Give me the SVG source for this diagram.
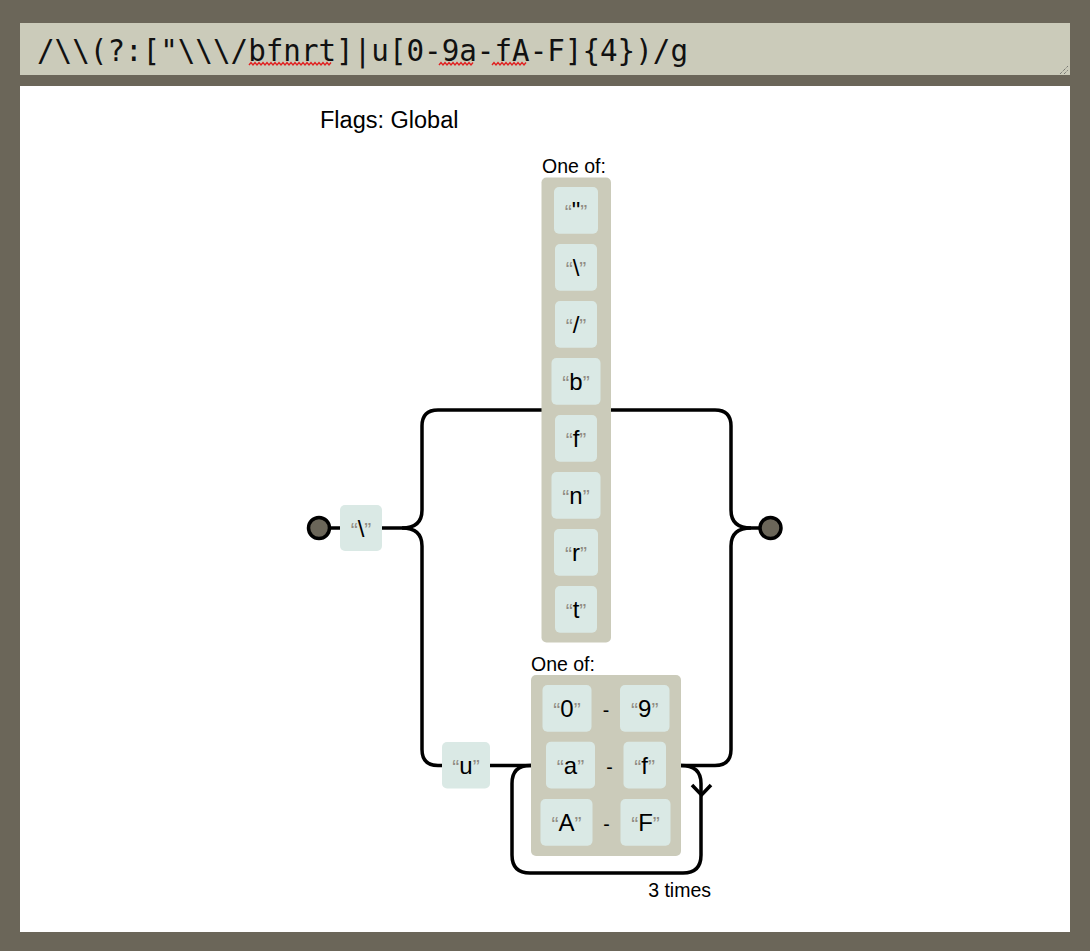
<svg xmlns="http://www.w3.org/2000/svg" width="1090" height="951" viewBox="0 0 1090 951">
<style>
.lit rect{fill:#dae9e5}
.lit text{font-family:"Liberation Sans",Arial,sans-serif;font-size:24px;fill:#000;text-anchor:middle}
.q{fill:#908c83;font-size:21px}
.alt{fill:#cbcbba}
.lbl{font-family:"Liberation Sans",Arial,sans-serif;font-size:19.5px;fill:#000}
.conn path,.conn polyline{fill:none;stroke:#000;stroke-width:3.5}
.anchor{fill:#6b6659;stroke:#000;stroke-width:3.5}
.squig{fill:none;stroke:#e02020;stroke-width:1.4}
</style>
<rect x="0" y="0" width="1090" height="951" fill="#6b6659"/>
<g id="input">
<rect x="20" y="23" width="1050" height="52" fill="#cbcbba"/>
<text x="37" y="61" font-family="'DejaVu Sans Mono','Liberation Mono',monospace" font-size="29.3" textLength="651" lengthAdjust="spacingAndGlyphs" fill="#111">/\\(?:["\\\/bfnrt]|u[0-9a-fA-F]{4})/g</text>
<path class="squig" d="M249,65 l2,-2.5 l2,2.5 l2,-2.5 l2,2.5 l2,-2.5 l2,2.5 l2,-2.5 l2,2.5 l2,-2.5 l2,2.5 l2,-2.5 l2,2.5 l2,-2.5 l2,2.5 l2,-2.5 l2,2.5 l2,-2.5 l2,2.5 l2,-2.5 l2,2.5 l2,-2.5 l2,2.5 l2,-2.5 l2,2.5 l2,-2.5 l2,2.5 l2,-2.5 l2,2.5 l2,-2.5 l2,2.5 l2,-2.5 l2,2.5 l2,-2.5 l2,2.5 l2,-2.5 l2,2.5 l2,-2.5 l2,2.5 l2,-2.5 l2,2.5 l2,-2.5"/>
<path class="squig" d="M439,65 l2,-2.5 l2,2.5 l2,-2.5 l2,2.5 l2,-2.5 l2,2.5 l2,-2.5 l2,2.5 l2,-2.5 l2,2.5 l2,-2.5 l2,2.5 l2,-2.5 l2,2.5 l2,-2.5 l2,2.5 l2,-2.5"/>
<path class="squig" d="M492,65 l2,-2.5 l2,2.5 l2,-2.5 l2,2.5 l2,-2.5 l2,2.5 l2,-2.5 l2,2.5 l2,-2.5 l2,2.5 l2,-2.5 l2,2.5 l2,-2.5 l2,2.5 l2,-2.5 l2,2.5 l2,-2.5"/>
<path d="M1060,74 L1068,66 M1064,74 L1068,70" stroke="#555" stroke-width="1" stroke-dasharray="1,1" fill="none"/>
</g>
<rect x="20" y="86" width="1050" height="846" fill="#fff"/>
<text x="320" y="128" font-family="'Liberation Sans',Arial,sans-serif" font-size="23.5" fill="#000">Flags: Global</text>
<g class="conn" id="connectors">
<path d="M319,528 H340"/>
<path d="M382,528 H402"/>
<path d="M402,528 q20,0 20,-18 V426 q0,-16 16,-16 H542"/>
<path d="M402,528 q20,0 20,18 V749.5 q0,16 16,16 H442"/>
<path d="M490,765.5 H531"/>
<path d="M610,410 H715 q16,0 16,16 V510 q0,18 20,18 H770"/>
<path d="M681,765.5 H715 q16,0 16,-16 V546 q0,-18 20,-18"/>
<path d="M681,765.5 q20,0 20,18 V855 q0,18 -18,18 H530 q-18,0 -18,-18 V783.5 q0,-18 18,-18 H531"/>
<polyline points="692,785 701.5,795 711,785"/>
</g>
<circle id="start" class="anchor" cx="319" cy="528" r="10.5"/>
<circle id="end" class="anchor" cx="770.5" cy="528" r="10.5"/>
<g id="n-backslash" class="lit"><rect x="340" y="505" width="42" height="46" rx="5"/><text x="361" y="537"><tspan class="q">“</tspan>\<tspan class="q">”</tspan></text></g>
<g id="charset1">
<text class="lbl" x="542" y="172.5">One of:</text>
<rect class="alt" x="541.5" y="177.5" width="69.5" height="465" rx="5"/>
<g id="c-quote" class="lit"><rect x="554" y="187" width="44" height="46.7" rx="5"/><text x="576" y="219"><tspan class="q">“</tspan>"<tspan class="q">”</tspan></text></g>
<g id="c-bs" class="lit"><rect x="555" y="244" width="42" height="46.7" rx="5"/><text x="576" y="276"><tspan class="q">“</tspan>\<tspan class="q">”</tspan></text></g>
<g id="c-slash" class="lit"><rect x="555" y="301" width="42" height="46.7" rx="5"/><text x="576" y="333"><tspan class="q">“</tspan>/<tspan class="q">”</tspan></text></g>
<g id="c-b" class="lit"><rect x="551.5" y="358" width="49" height="46.7" rx="5"/><text x="576" y="390"><tspan class="q">“</tspan>b<tspan class="q">”</tspan></text></g>
<g id="c-f" class="lit"><rect x="555" y="415" width="42" height="46.7" rx="5"/><text x="576" y="447"><tspan class="q">“</tspan>f<tspan class="q">”</tspan></text></g>
<g id="c-n" class="lit"><rect x="551.5" y="472" width="49" height="46.7" rx="5"/><text x="576" y="504"><tspan class="q">“</tspan>n<tspan class="q">”</tspan></text></g>
<g id="c-r" class="lit"><rect x="554" y="529" width="44" height="46.7" rx="5"/><text x="576" y="561"><tspan class="q">“</tspan>r<tspan class="q">”</tspan></text></g>
<g id="c-t" class="lit"><rect x="555" y="586" width="42" height="46.7" rx="5"/><text x="576" y="618"><tspan class="q">“</tspan>t<tspan class="q">”</tspan></text></g>
</g>
<g id="n-u" class="lit"><rect x="442" y="742" width="48" height="46.5" rx="5"/><text x="466" y="774"><tspan class="q">“</tspan>u<tspan class="q">”</tspan></text></g>
<g id="charset2">
<text class="lbl" x="531" y="670.5">One of:</text>
<rect class="alt" x="531" y="675" width="150" height="181" rx="5"/>
<g class="lit"><rect x="542.5" y="685" width="49" height="46.7" rx="5"/><text x="567" y="717"><tspan class="q">“</tspan>0<tspan class="q">”</tspan></text></g>
<text class="lbl" x="606" y="717" text-anchor="middle" font-size="23">-</text>
<g class="lit"><rect x="620" y="685" width="49.5" height="46.7" rx="5"/><text x="644.7" y="717"><tspan class="q">“</tspan>9<tspan class="q">”</tspan></text></g>
<g class="lit"><rect x="546" y="741.7" width="49" height="46.7" rx="5"/><text x="570.5" y="774"><tspan class="q">“</tspan>a<tspan class="q">”</tspan></text></g>
<text class="lbl" x="609.5" y="774" text-anchor="middle" font-size="23">-</text>
<g class="lit"><rect x="623.5" y="741.7" width="42.5" height="46.7" rx="5"/><text x="644.7" y="774"><tspan class="q">“</tspan>f<tspan class="q">”</tspan></text></g>
<g class="lit"><rect x="540.5" y="799" width="52" height="46.7" rx="5"/><text x="566.5" y="831"><tspan class="q">“</tspan>A<tspan class="q">”</tspan></text></g>
<text class="lbl" x="606.5" y="831" text-anchor="middle" font-size="23">-</text>
<g class="lit"><rect x="620.5" y="799" width="50" height="46.7" rx="5"/><text x="645.5" y="831"><tspan class="q">“</tspan>F<tspan class="q">”</tspan></text></g>
</g>
<text class="lbl" x="711" y="897" text-anchor="end">3 times</text>
</svg>
